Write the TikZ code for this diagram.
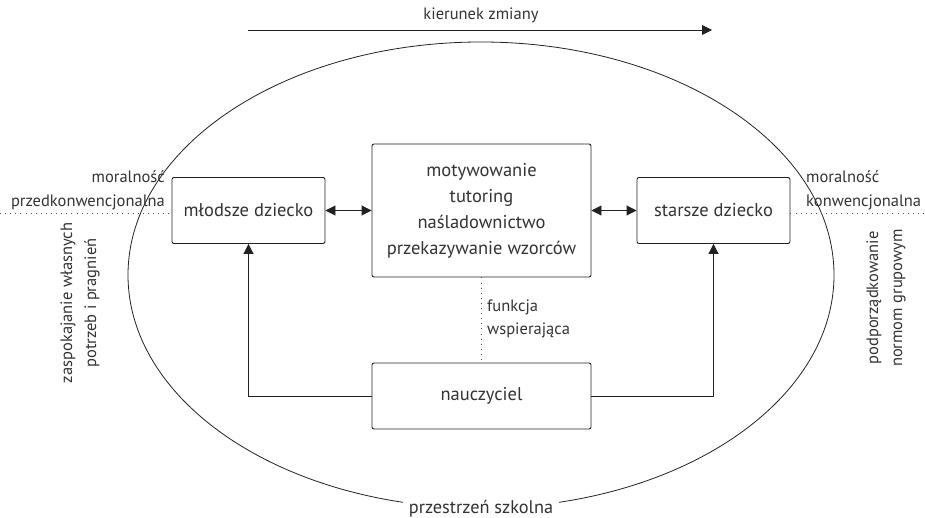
\documentclass[tikz,border=0pt]{standalone}
\usepackage{fontspec}
\setmainfont{PT Sans}
\usetikzlibrary{arrows.meta,shapes.geometric}
\definecolor{ink}{HTML}{222222}
\definecolor{txt}{HTML}{333333}
\tikzset{
  box/.style={draw=ink, line width=0.9pt, rounded corners=2pt, align=center,
    text=txt, font=\fontsize{18.5}{26}\selectfont, inner sep=0pt},
  lbl/.style={text=txt, font=\fontsize{16.5}{24}\selectfont, inner sep=0pt},
  conn/.style={draw=ink, line width=0.9pt},
  tip/.style={-{Triangle[length=10pt,width=10pt]}},
  dtip/.style={{Triangle[length=10pt,width=10pt]}-{Triangle[length=10pt,width=10pt]}},
  dots/.style={draw=ink!80, line width=0.9pt, dash pattern=on 0.9pt off 4.2pt},
}
\begin{document}
\begin{tikzpicture}[x=1pt,y=-1pt]
\useasboundingbox (0,0) rectangle (925,518);

% school space
\draw[ink, line width=0.8pt] (481,275) ellipse [x radius=353, y radius=233];
\node[lbl, fill=white, inner xsep=6pt, inner ysep=2pt, font=\fontsize{18.3}{22}\selectfont]
  (space) at (481,509) {przestrzeń szkolna};

% direction of change
\coordinate (dirA) at (248,30);
\coordinate (dirB) at (712,30);
\draw[conn, tip] (dirA) -- (dirB);
\node[lbl] (dir) at (481,15) {kierunek zmiany};

% main boxes
\node[box, minimum width=153pt, minimum height=66pt] (young) at (248.5,210.5) {młodsze dziecko};
\node[box, minimum width=219pt, minimum height=133pt] (mid) at (481.5,210.5)
  {motywowanie\\tutoring\\naśladownictwo\\przekazywanie wzorców};
\node[box, minimum width=153pt, minimum height=66pt] (old) at (713.5,210.5) {starsze dziecko};
\node[box, minimum width=219pt, minimum height=66pt] (teach) at (481.5,396) {nauczyciel};

% links
\draw[conn, dtip] (young.east) -- (mid.west |- young.east);
\draw[conn, dtip] (mid.east |- old.west) -- (old.west);
\draw[conn, tip] (teach.west) -| (young.south);
\draw[conn, tip] (teach.east) -| (old.south);
\draw[dots] (mid.south) -- (teach.north);
\node[lbl, anchor=west, align=left, font=\fontsize{16.5}{23}\selectfont] (func) at (487,319)
  {funkcja\\wspierająca};

% stages of morality
\coordinate (leftEnd) at (0,213);
\coordinate (rightEnd) at (925,213);
\draw[dots] (leftEnd) -- (leftEnd -| young.west);
\draw[dots] (old.east |- rightEnd) -- (rightEnd);
\node[lbl, anchor=east, align=right] (preL) at (165,190)
  {moralność\\przedkonwencjonalna};
\node[lbl, anchor=west, align=left] (conL) at (806,190)
  {moralność\\konwencjonalna};
\node[lbl, rotate=90, align=center] (needs) at (80,303)
  {zaspokajanie własnych\\potrzeb i pragnień};
\node[lbl, rotate=90, align=center] (norms) at (886,298)
  {podporządkowanie\\normom grupowym};
\end{tikzpicture}
\end{document}
